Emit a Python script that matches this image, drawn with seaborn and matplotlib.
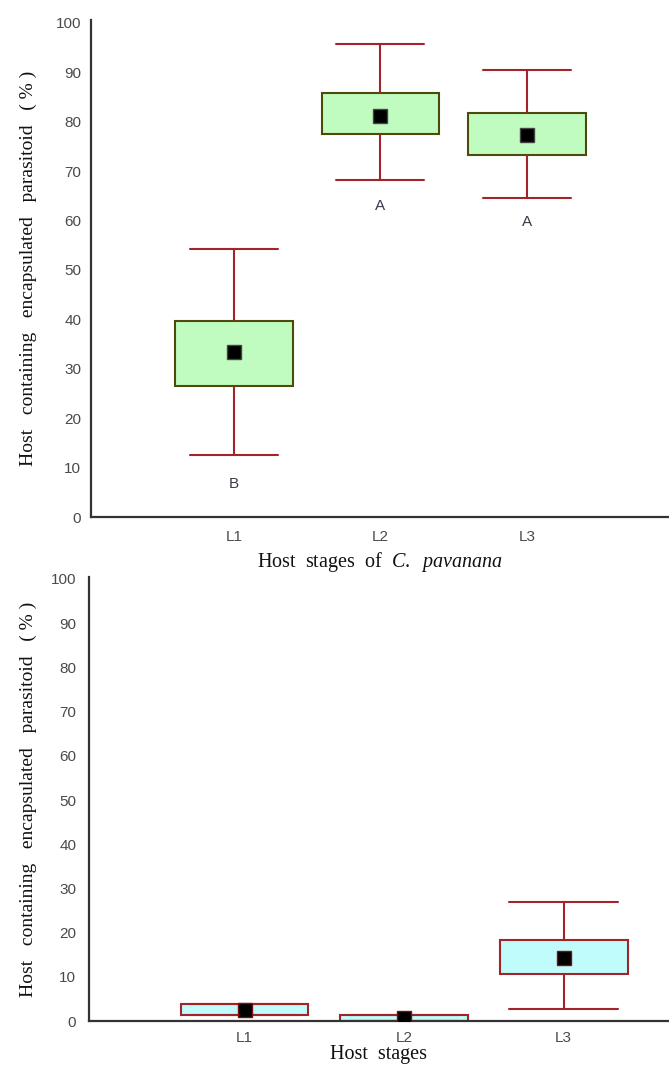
import numpy as np
import pandas as pd
import matplotlib
matplotlib.use("Agg")
import matplotlib.pyplot as plt
import seaborn as sns

# Host larval stages
stages = ["L1", "L2", "L3"]

# Encapsulation in C. pavanana hosts (%)
pav_low = [12.5, 68.1, 64.5]
pav_q1 = [26.6, 77.4, 73.3]
pav_mean = [33.4, 81.2, 77.2]
pav_q3 = [39.6, 85.8, 81.8]
pav_high = [54.3, 95.7, 90.4]
pav_letters = ["B", "A", "A"]
pav_letter_y = [6.6, 63.0, 59.7]

# Encapsulation in the second host (%)
host_low = [1.35, 0.0, 2.7]
host_q1 = [1.35, 0.0, 10.7]
host_mean = [2.5, 0.8, 14.3]
host_q3 = [4.0, 1.4, 18.4]
host_high = [4.0, 1.4, 26.9]

yticks = [0, 10, 20, 30, 40, 50, 60, 70, 80, 90, 100]

sns.set_style("white")
plt.rcParams["font.family"] = ["Liberation Sans", "DejaVu Sans"]
plt.rcParams["mathtext.fontset"] = "custom"
plt.rcParams["mathtext.rm"] = "Liberation Serif"
plt.rcParams["mathtext.it"] = "Liberation Serif:italic"

WHISK = "#a3232a"
SERIF = "Liberation Serif"
YLABEL = "Host   containing   encapsulated   parasitoid   ( % )"


def five_number_frame(low, q1, mid, q3, high):
    rows = []
    for s, a, b, c, d, e in zip(stages, low, q1, mid, q3, high):
        for v in (a, b, c, d, e):
            rows.append({"stage": s, "value": v})
    return pd.DataFrame(rows)


def draw_panel(ax, low, q1, mean, q3, high, fill, edge, capw, xlim,
               marker_edge, tick_len, xpad, label_x):
    df = five_number_frame(low, q1, mean, q3, high)
    sns.boxplot(data=df, x="stage", y="value", order=stages, ax=ax,
                whis=(0, 100), width=0.8, color=fill, saturation=1,
                linecolor=WHISK, linewidth=1.5, showfliers=False,
                capwidths=capw,
                boxprops={"edgecolor": edge, "linewidth": 1.5},
                whiskerprops={"color": WHISK, "linewidth": 1.5},
                capprops={"color": WHISK, "linewidth": 1.5},
                medianprops={"visible": False})
    means = pd.DataFrame({"stage": stages, "value": mean})
    sns.pointplot(data=means, x="stage", y="value", order=stages, ax=ax,
                  color="black", linestyle="none", marker="s",
                  markersize=10, markeredgecolor=marker_edge,
                  markeredgewidth=1.0, errorbar=None, zorder=5)
    ax.set_xlim(*xlim)
    ax.set_ylim(0, 100.5)
    ax.set_yticks(yticks)
    ax.set_yticklabels([str(t) for t in yticks])
    for side in ("top", "right"):
        ax.spines[side].set_visible(False)
    for side in ("left", "bottom"):
        ax.spines[side].set_color("#333333")
        ax.spines[side].set_linewidth(1.6)
    ax.tick_params(axis="y", length=tick_len, width=1, color="#333333",
                   labelsize=11, labelcolor="#4a4a4a",
                   pad=7 - tick_len * 0.3)
    ax.tick_params(axis="x", length=tick_len, width=1, color="#333333",
                   labelsize=11, labelcolor="#4a4a4a", pad=xpad)
    ax.set_ylabel(YLABEL, family=SERIF, fontsize=14, color="#111111")
    ax.yaxis.set_label_coords(label_x, 0.5)


fig = plt.figure(figsize=(6.69, 10.66), dpi=100)
ax1 = fig.add_axes([0.136, 0.515, 0.864, 0.466])
ax2 = fig.add_axes([0.133, 0.042, 0.867, 0.417])

draw_panel(ax1, pav_low, pav_q1, pav_mean, pav_q3, pav_high,
           fill="#c0fcbf", edge="#4e4a0c", capw=0.6, xlim=(-0.976, 2.97),
           marker_edge="#444444", tick_len=0, xpad=9, label_x=-0.093)
for i, (lab, yv) in enumerate(zip(pav_letters, pav_letter_y)):
    ax1.text(i, yv, lab, ha="center", va="center", fontsize=11,
             color="#3a3a4a")
ax1.set_xlabel(r"Host  stages  of  $\mathit{C.\ \ pavanana}$", family=SERIF,
               fontsize=14.5, color="#111111", labelpad=5)

draw_panel(ax2, host_low, host_q1, host_mean, host_q3, host_high,
           fill="#c0fcfc", edge=WHISK, capw=0.68, xlim=(-0.975, 2.66),
           marker_edge="#7a0f12", tick_len=3, xpad=4, label_x=-0.09)
ax2.set_xlabel("Host  stages", family=SERIF, fontsize=14.5, color="#111111",
               labelpad=0)

fig.savefig("out.png", dpi=100)
